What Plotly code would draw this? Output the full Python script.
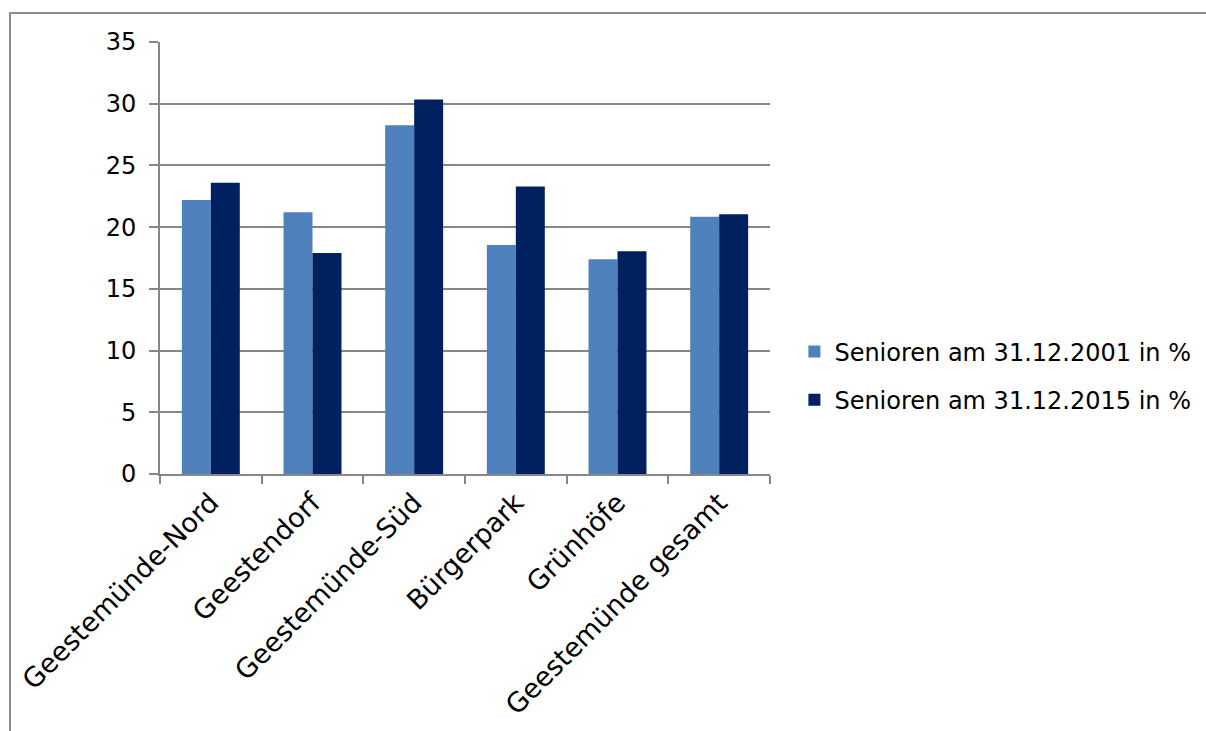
import plotly.graph_objects as go

# Anteil der Senioren je Ortsteil (in %)
ortsteile = ["Geestemünde-Nord", "Geestendorf", "Geestemünde-Süd",
             "Bürgerpark", "Grünhöfe", "Geestemünde gesamt"]
senioren_2001 = [22.2, 21.2, 28.25, 18.55, 17.4, 20.85]
senioren_2015 = [23.6, 17.9, 30.35, 23.3, 18.05, 21.05]
y_ticks = [0, 5, 10, 15, 20, 25, 30, 35]

FONT = "DejaVu Sans"
GRID = "#878787"

fig = go.Figure()
fig.add_trace(go.Bar(
    x=ortsteile, y=senioren_2001, name="Senioren am 31.12.2001 in %",
    marker=dict(color="#4F81BD", line=dict(width=0)), legendgroup="a",
))
fig.add_trace(go.Bar(
    x=ortsteile, y=senioren_2015, name="Senioren am 31.12.2015 in %",
    marker=dict(color="#002060", line=dict(width=0)), legendgroup="b",
))

fig.update_layout(
    width=1206, height=731,
    margin=dict(l=160, r=436, t=42, b=257, autoexpand=False),
    paper_bgcolor="white", plot_bgcolor="white",
    barmode="group", bargap=0.43, bargroupgap=0,
    font=dict(family=FONT, color="#000000"),
    showlegend=True,
    legend=dict(
        x=1.04, y=0.227, xanchor="left", yanchor="middle",
        font=dict(family=FONT, size=24, color="#000000"),
        tracegroupgap=14, traceorder="grouped",
        bgcolor="rgba(0,0,0,0)",
    ),
    xaxis=dict(
        type="category", tickangle=-45, automargin=False,
        tickfont=dict(family=FONT, size=27, color="#000000"),
        showline=True, linecolor=GRID, linewidth=2,
        ticks="outside", tickson="boundaries", ticklen=8,
        tickcolor=GRID, tickwidth=2,
        showgrid=False,
    ),
    yaxis=dict(
        range=[0, 35], tickvals=y_ticks, automargin=False,
        tickfont=dict(family=FONT, size=24, color="#000000"),
        showline=True, linecolor=GRID, linewidth=2,
        ticks="outside", ticklen=9, tickcolor=GRID, tickwidth=2,
        ticklabelstandoff=8,
        showgrid=True, gridcolor=GRID, gridwidth=2,
        zeroline=False,
    ),
    shapes=[dict(
        type="rect", xref="paper", yref="paper",
        x0=(10 - 160) / 610, x1=(1230 - 160) / 610,
        y0=(474 - 760) / 432, y1=(474 - 13) / 432,
        line=dict(color="#8c8c8c", width=2), fillcolor="rgba(0,0,0,0)",
        layer="below",
    )],
)

fig.write_html("out.html")
